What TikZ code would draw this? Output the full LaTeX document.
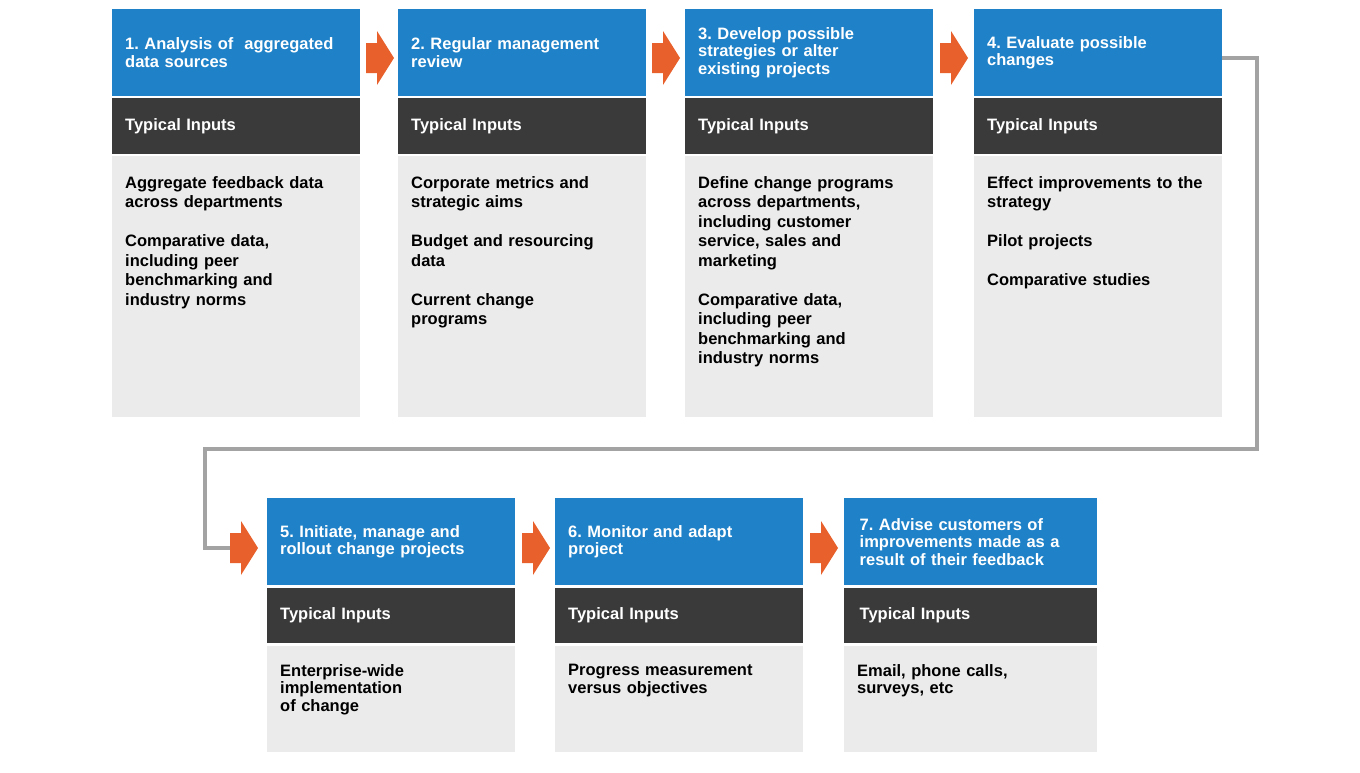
\documentclass[tikz,border=0pt]{standalone}
\usepackage{fontspec}
\setmainfont{Liberation Sans}
\usetikzlibrary{calc}
\definecolor{cblue}{HTML}{1F82C8}
\definecolor{cdark}{HTML}{3A3A3A}
\definecolor{cgray}{HTML}{EBEBEB}
\definecolor{corange}{HTML}{E8612C}
\definecolor{cline}{HTML}{A3A3A3}
\tikzset{
 hbox/.style={fill=cblue,anchor=north west,minimum width=248pt,minimum height=87pt,text width=222pt,inner sep=0pt,align=left,text=white,font=\fontsize{16.5}{17.5}\selectfont\bfseries},
 tbox/.style={fill=cdark,anchor=north west,minimum width=248pt,minimum height=56pt,text width=222pt,inner sep=0pt,align=left,text=white,font=\fontsize{16.5}{19.5}\selectfont\bfseries},
 bbox/.style={fill=cgray,anchor=north west,minimum width=248pt,text width=222pt,inner xsep=13pt,inner ysep=0pt,align=left,text=black,font=\fontsize{16.5}{19.5}\selectfont\bfseries},
 arr/.style={fill=corange},
 conn/.style={draw=cline,line width=4pt}
}
\newcommand{\hd}[2]{\hangindent=15pt\hangafter=1 #1\ #2}
\newcommand{\orarrow}[1]{\fill[arr] ($#1+(0,-15)$) -- ++(11,0) -- ++(0,-12) -- ($#1+(28,0)$) -- ($#1+(11,27)$) -- ++(0,-12) -- ($#1+(0,15)$) -- cycle;}
\begin{document}
\begin{tikzpicture}[x=1pt,y=-1pt]
\useasboundingbox (0,0) rectangle (1360,772);
% top row
\foreach \i/\x in {1/112,2/398,3/685,4/974}{
 \node[tbox] (t\i) at (\x,98) {Typical Inputs};
}
\node[hbox] (h1) at (112,9) {\hd{1.}{Analysis of\ \ aggregated\\data sources}};
\node[hbox] (h2) at (398,9) {\hd{2.}{Regular management\\review}};
\node[hbox] (h3) at (685,9) {\hd{3.}{Develop possible\\strategies or alter\\existing projects}};
\node[hbox] (h4) at (974,9) {\hd{4.}{Evaluate possible\\changes}};
\foreach \i/\x/\t in {
 1/112/{Aggregate feedback data\\across departments\\[19.5pt]Comparative data,\\including peer\\benchmarking and\\industry norms},
 2/398/{Corporate metrics and\\strategic aims\\[19.5pt]Budget and resourcing\\data\\[19.5pt]Current change\\programs},
 3/685/{Define change programs\\across departments,\\including customer\\service, sales and\\marketing\\[19.5pt]Comparative data,\\including peer\\benchmarking and\\industry norms},
 4/974/{Effect improvements to the\\strategy\\[19.5pt]Pilot projects\\[19.5pt]Comparative studies}}{
 \fill[cgray] (\x,156) rectangle ++(248,261);
 \node[bbox,minimum height=0pt,fill=none] (b\i) at (\x,176) {\t};
}
% bottom row
\node[hbox] (h5) at (267,498) {\hd{5.}{Initiate, manage and\\rollout change projects}};
\node[hbox] (h6) at (555,498) {\hd{6.}{Monitor and adapt\\project}};
\node[hbox,minimum width=253pt] (h7) at (844,498) {\hd{7.}{Advise customers of\\improvements made as a\\result of their feedback}};
\node[tbox,minimum height=55pt] (t5) at (267,588) {Typical Inputs};
\node[tbox,minimum height=55pt] (t6) at (555,588) {Typical Inputs};
\node[tbox,minimum height=55pt,minimum width=253pt] (t7) at (844,588) {Typical Inputs};
\foreach \i/\x/\w/\t in {
 5/267/248/{Enterprise-wide\\[-2pt]implementation\\[-2pt]of change},
 6/555/248/{Progress measurement\\[-2pt]versus objectives},
 7/844/253/{Email, phone calls,\\[-2pt]surveys, etc}}{
 \fill[cgray] (\x,646) rectangle ++(\w,106);
 \node[bbox,fill=none] (b\i) at (\x,664) {\t};
}
% connector
\coordinate (c1) at (1257,58);
\coordinate (c2) at (1257,449);
\coordinate (c3) at (205,449);
\coordinate (c4) at (205,548);
\coordinate (c5) at (232,548);
\draw[conn] (h4.east|-c1) -- (c1) -- (c2) -- (c3) -- (c4) -- (c5);
% arrows
\orarrow{(366,58)}
\orarrow{(652,58)}
\orarrow{(940,58)}
\orarrow{(230,548)}
\orarrow{(522,548)}
\orarrow{(810,548)}
\end{tikzpicture}
\end{document}
